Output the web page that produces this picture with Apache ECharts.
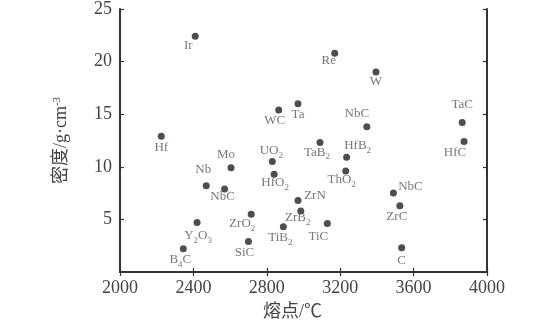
<!DOCTYPE html>
<html><head><meta charset="utf-8">
<script src="https://cdn.jsdelivr.net/npm/echarts@6/dist/echarts.min.js"></script>
<style>html,body{margin:0;padding:0;background:#fff}#c{width:548px;height:332px}</style>
</head><body><div id="c"></div>
<script>
// data
var names = ['Ir','Hf','Re','W','TaC','HfC','NbC','Ta','WC','TaB2','HfB2','ThO2','UO2','HfO2','ZrN','ZrB2','TiC','TiB2','ZrO2','SiC','Mo','Nb','NbC','Y2O3','B4C','NbC','ZrC','C'];
var meltingPoint = [2410,2225,3170,3395,3865,3875,3345,2970,2865,3090,3235,3230,2830,2840,2970,2985,3130,2890,2715,2700,2605,2470,2570,2420,2345,3490,3525,3535];
var density = [22.4,12.9,20.8,19.0,14.2,12.4,13.8,16.0,15.4,12.3,10.9,9.6,10.5,9.3,6.8,5.8,4.6,4.3,5.5,2.9,9.9,8.2,7.9,4.7,2.2,7.5,6.3,2.3];
var xTicks = [2000,2400,2800,3200,3600,4000];
var yTicks = [0,5,10,15,20,25];

// label placement (style only)
var labelOffset = [[-7,11],[0,13],[-6,9],[0,11],[0,-17],[-9,13],[-10,-12],[0,12],[-4,12],[-3,11],[11,-10],[-4,10],[-1,-9],[1,10],[17,-3],[-3,8],[-9,14],[-3,12],[-9,11],[-4,13],[-5,-12],[-3,-15],[-2,9],[1,15],[-3,12],[17,-5],[-3,12],[0,14]];

var FONT = "'Liberation Serif','Noto Sans CJK SC',serif";
function fmt(n){
  return n.replace(/([A-Za-z]+)|(\d+)/g, function(m, a, d){ return a ? '{n|'+a+'}' : '{s|'+d+'}'; });
}
var pts = names.map(function(n,i){
  return {value:[meltingPoint[i], density[i]], name:n,
    label:{offset:labelOffset[i]}};
});
var chart = echarts.init(document.getElementById('c'));
var axisLine = {show:true, lineStyle:{color:'#333', width:2}};
var tick = {show:true, inside:true, length:4, lineStyle:{color:'#333', width:1.2}};
chart.setOption({
  animation:false,
  grid:{left:120, right:61, top:7, bottom:60},
  xAxis:[{
    type:'value', min:xTicks[0], max:xTicks[xTicks.length-1], interval:400,
    axisLine:axisLine, axisTick:tick, splitLine:{show:false},
    axisLabel:{color:'#444', fontFamily:FONT, fontSize:18, margin:7, formatter:function(v){return String(v);}},
    name:'熔点/℃', nameLocation:'middle', nameGap:31,
    nameTextStyle:{color:'#444', fontFamily:FONT, fontSize:18, padding:[0,22,0,0]}
  },{
    type:'value', position:'top', min:xTicks[0], max:xTicks[xTicks.length-1], interval:400,
    axisLine:axisLine, axisTick:tick, axisLabel:{show:false}, splitLine:{show:false}
  }],
  yAxis:[{
    type:'value', min:yTicks[0], max:yTicks[yTicks.length-1], interval:5,
    axisLine:axisLine, axisTick:tick, splitLine:{show:false},
    axisLabel:{color:'#444', fontFamily:FONT, fontSize:18, margin:8, showMinLabel:false},
    name:'密度/g·cm{sup|-3}', nameLocation:'middle', nameGap:50,
    nameTextStyle:{color:'#444', fontFamily:FONT, fontSize:18,
      rich:{sup:{fontSize:11, fontFamily:FONT, color:'#444', verticalAlign:'top', lineHeight:11}}}
  },{
    type:'value', position:'right', min:yTicks[0], max:yTicks[yTicks.length-1], interval:5,
    axisLine:axisLine, axisTick:tick, axisLabel:{show:false}, splitLine:{show:false}
  }],
  series:[{
    type:'scatter', symbolSize:7, itemStyle:{color:'#222'},
    data:pts,
    label:{show:true, position:'inside', color:'#555', align:'center', verticalAlign:'middle',
      formatter:function(p){return fmt(p.name);},
      rich:{
        n:{fontFamily:FONT, fontSize:13, color:'#555', lineHeight:16, verticalAlign:'top'},
        s:{fontFamily:FONT, fontSize:9, color:'#555', lineHeight:9, verticalAlign:'bottom'}
      }}
  }]
});
</script></body></html>
